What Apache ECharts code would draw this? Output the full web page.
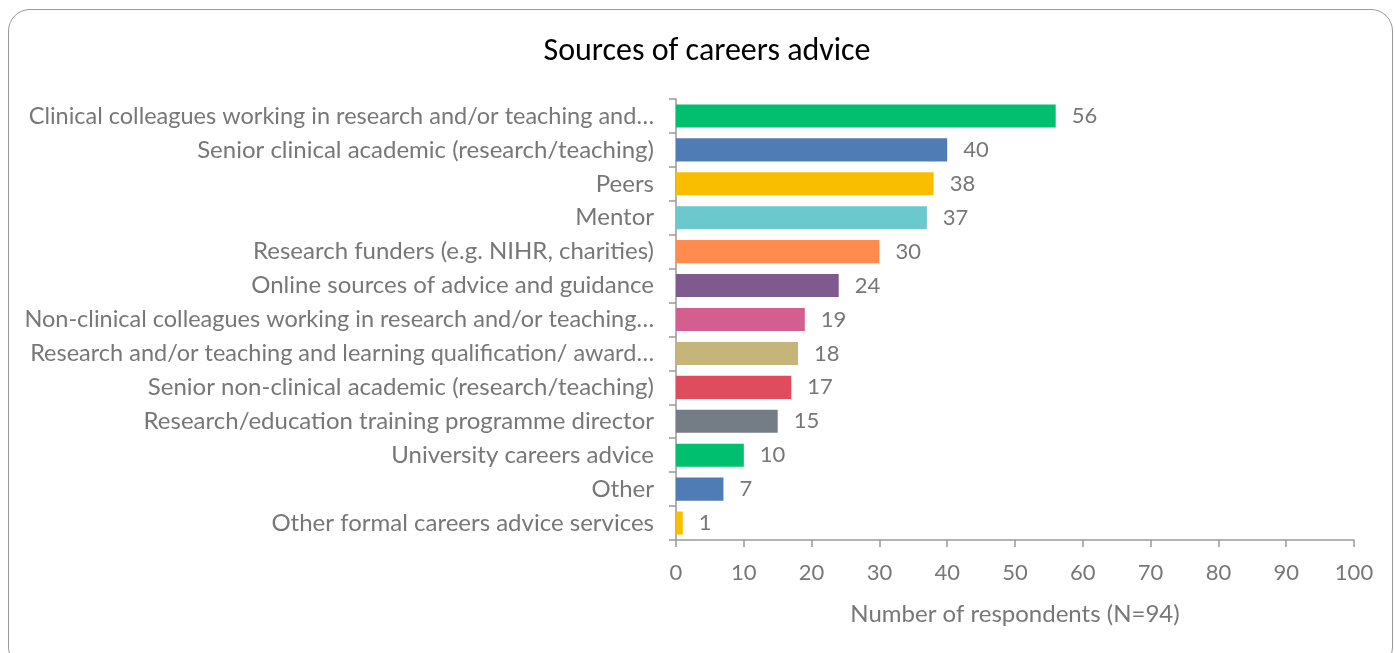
<!DOCTYPE html>
<html>
<head>
<meta charset="utf-8">
<style>
  html, body { margin: 0; padding: 0; background: #fff; }
  #frame {
    position: absolute; left: 8px; top: 9px; width: 1385px; height: 660px;
    border: 1.5px solid #9a9a9a; border-radius: 22px; box-sizing: border-box;
  }
  #chart { position: absolute; left: 0; top: 0; width: 1395px; height: 653px; }
</style>
<script src="https://cdn.jsdelivr.net/npm/echarts@6/dist/echarts.min.js"></script>
</head>
<body>
<div id="frame"></div>
<div id="chart"></div>
<script>
// Sources of careers advice, top to bottom
const categories = [
  'Clinical colleagues working in research and/or teaching and…',
  'Senior clinical academic (research/teaching)',
  'Peers',
  'Mentor',
  'Research funders (e.g. NIHR, charities)',
  'Online sources of advice and guidance',
  'Non-clinical colleagues working in research and/or teaching…',
  'Research and/or teaching and learning qualification/ award…',
  'Senior non-clinical academic (research/teaching)',
  'Research/education training programme director',
  'University careers advice',
  'Other',
  'Other formal careers advice services'
];
const respondents = [56, 40, 38, 37, 30, 24, 19, 18, 17, 15, 10, 7, 1];
const barColors = [
  '#00BF6F', '#507CB6', '#F9BE00', '#6BC8CD', '#FF8B4F', '#7F5A8F',
  '#D35F8E', '#C5B57A', '#DE4C5D', '#747D86', '#00BF6F', '#507CB6', '#F9BE00'
];
const xTicks = [0, 10, 20, 30, 40, 50, 60, 70, 80, 90, 100];

const textGray = '#777777';
const axisGray = '#999999';
const font = 'Lato, "Open Sans", sans-serif';

const chart = echarts.init(document.getElementById('chart'));
chart.setOption({
  animation: false,
  title: {
    text: 'Sources of careers advice',
    left: 702, top: 31, textAlign: 'center',
    textStyle: { color: '#000', fontSize: 32, fontWeight: 'normal', fontFamily: 'Carlito, "Open Sans", sans-serif' }
  },
  grid: { left: 676, right: 41, top: 99, bottom: 113, containLabel: false },
  xAxis: {
    type: 'value',
    min: xTicks[0], max: xTicks[xTicks.length - 1], interval: 10,
    name: 'Number of respondents (N=94)',
    nameLocation: 'middle', nameGap: 62,
    nameTextStyle: { color: textGray, fontSize: 24, fontFamily: font },
    axisLine: { show: true, lineStyle: { color: axisGray, width: 1.5 } },
    axisTick: { show: true, length: 7, lineStyle: { color: axisGray, width: 1.5 } },
    axisLabel: { color: textGray, fontSize: 22, fontFamily: font, margin: 22 },
    splitLine: { show: false }
  },
  yAxis: {
    type: 'category',
    inverse: true,
    data: categories,
    axisLine: { show: true, lineStyle: { color: axisGray, width: 1.5 } },
    axisTick: { show: true, length: 7, lineStyle: { color: axisGray, width: 1.5 } },
    axisLabel: {
      color: textGray, fontSize: 24, fontFamily: font, margin: 22,
      // shortened (ellipsised) names are set a touch tighter
      formatter: (v) => v.endsWith('…') ? '{cut|' + v + '}' : v,
      rich: { cut: { color: textGray, fontSize: 23.5, fontFamily: font } }
    }
  },
  series: [{
    type: 'bar',
    data: respondents.map((v, i) => ({ value: v, itemStyle: { color: barColors[i] } })),
    barCategoryGap: '32%',
    label: {
      show: true, position: 'right', distance: 16,
      color: textGray, fontSize: 22, fontFamily: font
    }
  }]
});
</script>
</body>
</html>
